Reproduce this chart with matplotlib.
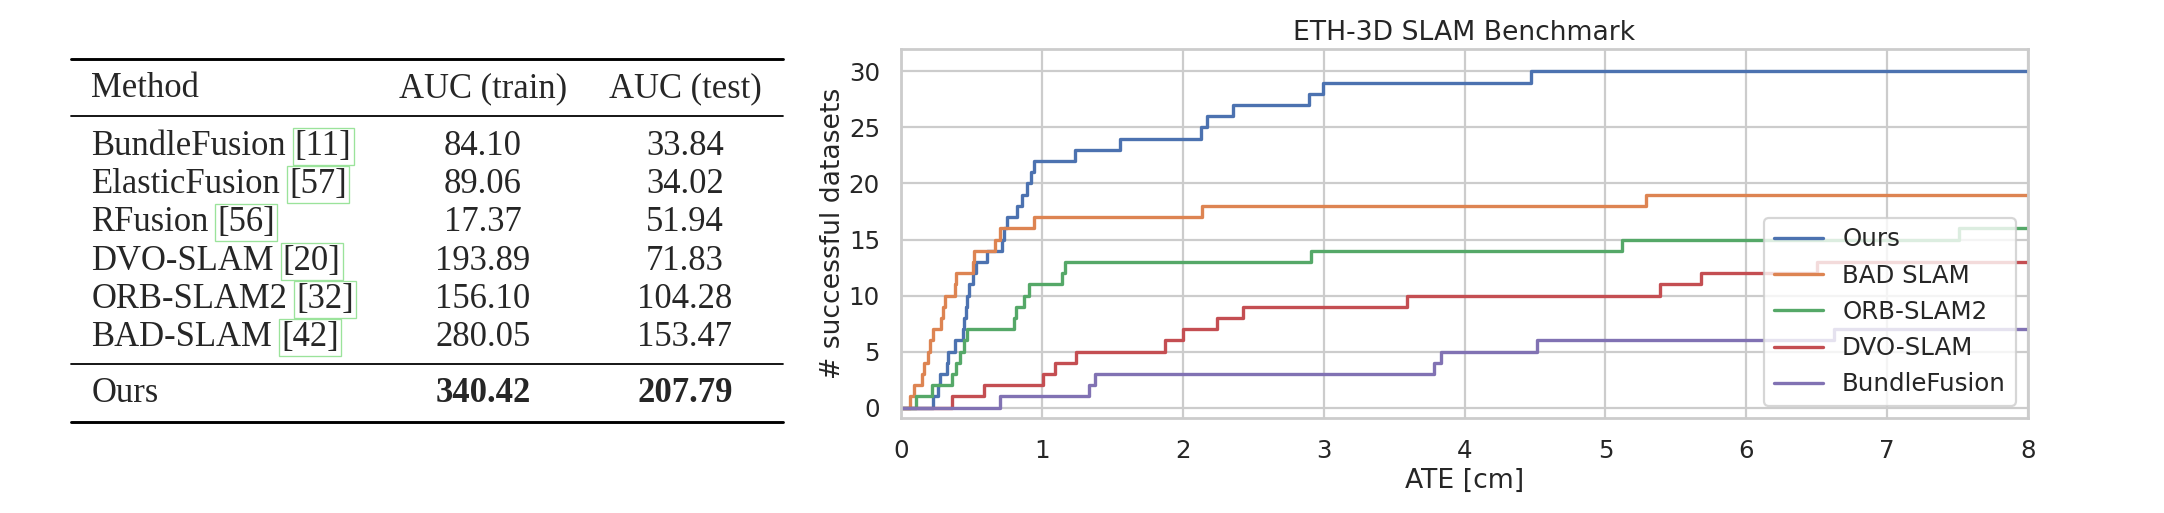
import numpy as np
import matplotlib
matplotlib.use("Agg")
import matplotlib.pyplot as plt
import seaborn as sns
from matplotlib.lines import Line2D

# ---------------------------------------------------------------------
# Table data
# ---------------------------------------------------------------------
methods = ["BundleFusion", "ElasticFusion", "RFusion", "DVO-SLAM", "ORB-SLAM2", "BAD-SLAM"]
cites = ["[11]", "[57]", "[56]", "[20]", "[32]", "[42]"]
auc_train = [84.10, 89.06, 17.37, 193.89, 156.10, 280.05]
auc_test = [33.84, 34.02, 51.94, 71.83, 104.28, 153.47]
ours_train = 340.42
ours_test = 207.79

# ---------------------------------------------------------------------
# Plot data: ATE [cm] at which the count of successful datasets steps up
# ---------------------------------------------------------------------
ours_ate = [0.23, 0.26, 0.28, 0.33, 0.335, 0.38, 0.44, 0.45, 0.46, 0.47,
            0.48, 0.51, 0.53, 0.61, 0.72, 0.73, 0.75, 0.825, 0.86, 0.895,
            0.92, 0.943, 1.234, 1.553, 2.13, 2.17, 2.357, 2.894, 2.995, 4.473]
ours_cnt = [1, 2, 3, 4, 5, 6, 7, 8, 9, 10, 11, 12, 13, 14, 15, 16, 17, 18,
            19, 20, 21, 22, 23, 24, 25, 26, 27, 28, 29, 30]

bad_ate = [0.064, 0.095, 0.147, 0.165, 0.19, 0.205, 0.23, 0.285, 0.295, 0.31,
           0.38, 0.39, 0.51, 0.52, 0.667, 0.70, 0.945, 2.14, 5.29]
bad_cnt = [1, 2, 3, 4, 5, 6, 7, 8, 9, 10, 11, 12, 13, 14, 15, 16, 17, 18, 19]

orb_ate = [0.11, 0.22, 0.365, 0.39, 0.42, 0.445, 0.467, 0.80, 0.815, 0.87,
           0.91, 1.14, 1.165, 2.91, 5.12, 7.51]
orb_cnt = [1, 2, 3, 4, 5, 6, 7, 8, 9, 10, 11, 12, 13, 14, 15, 16]

dvo_ate = [0.362, 0.59, 1.007, 1.095, 1.24, 1.875, 2.0, 2.245, 2.43, 3.592,
           5.39, 5.677, 6.50]
dvo_cnt = [1, 2, 3, 4, 5, 6, 7, 8, 9, 10, 11, 12, 13]

bf_ate = [0.70, 1.335, 1.38, 3.785, 3.83, 4.513, 6.62]
bf_cnt = [1, 2, 3, 4, 5, 6, 7]

series = [
    ("Ours", ours_ate, ours_cnt),
    ("BAD SLAM", bad_ate, bad_cnt),
    ("ORB-SLAM2", orb_ate, orb_cnt),
    ("DVO-SLAM", dvo_ate, dvo_cnt),
    ("BundleFusion", bf_ate, bf_cnt),
]

x_max = 8

sns.set_theme(style="whitegrid", palette="deep", context="notebook")
plt.rcParams["font.family"] = ["DejaVu Sans"]

W, H = 2164, 513
fig = plt.figure(figsize=(W / 160, H / 160), dpi=160)


def fx(x):
    return x / W


def fy(y):
    return 1 - y / H


# ---------------------------------------------------------------------
# Plot
# ---------------------------------------------------------------------
ax = fig.add_axes([fx(901), fy(418.3), fx(2028 - 901), (418.3 - 49) / H])

for name, ate, cnt in series:
    xs = np.r_[0, ate, x_max]
    ys = np.r_[0, cnt, cnt[-1]]
    ax.step(xs, ys, where="post", label=name)

ax.set_xlim(0, x_max)
ax.set_ylim(-0.95, 32)
ax.set_xticks(range(0, 9))
ax.set_yticks(range(0, 31, 5))
ax.set_xlabel("ATE [cm]", labelpad=2)
ax.set_ylabel("# successful datasets", labelpad=1)
ax.set_title("ETH-3D SLAM Benchmark", pad=4)
ax.legend(loc="lower right")

# ---------------------------------------------------------------------
# Table
# ---------------------------------------------------------------------
serif = ["Liberation Serif", "DejaVu Serif"]
tsize = 15.6
x_left, x_right = 70.6, 783
col_method = 91.5
col_train = 483
col_test = 685


def rule(y, lw):
    fig.add_artist(Line2D([fx(x_left), fx(x_right)], [fy(y), fy(y)],
                          transform=fig.transFigure, color="black", lw=lw))


rule(59, 1.3)
rule(116, 0.8)
rule(364, 0.8)
rule(422, 1.3)

header_y = 97
fig.text(fx(col_method), fy(header_y), "Method", family=serif, size=tsize)
fig.text(fx(col_train), fy(header_y), "AUC (train)", family=serif, size=tsize, ha="center")
fig.text(fx(col_test), fy(header_y), "AUC (test)", family=serif, size=tsize, ha="center")

renderer = fig.canvas.get_renderer()
row_y = [155, 193, 231, 270, 308, 346]
space = 0.25 * tsize * 160 / 72

for i, (m, c) in enumerate(zip(methods, cites)):
    y = row_y[i]
    t = fig.text(fx(col_method), fy(y), m, family=serif, size=tsize)
    bb = t.get_window_extent(renderer)
    fig.text(fx(bb.x1 + space), fy(y), c, family=serif, size=tsize,
             bbox=dict(boxstyle="square,pad=0.06", fc="none", ec="#9be39b", lw=0.6))
    fig.text(fx(col_train), fy(y), f"{auc_train[i]:.2f}", family=serif, size=tsize, ha="center")
    fig.text(fx(col_test), fy(y), f"{auc_test[i]:.2f}", family=serif, size=tsize, ha="center")

ours_y = 402
fig.text(fx(col_method), fy(ours_y), "Ours", family=serif, size=tsize)
fig.text(fx(col_train), fy(ours_y), f"{ours_train:.2f}", family=serif, size=tsize,
         ha="center", weight="bold")
fig.text(fx(col_test), fy(ours_y), f"{ours_test:.2f}", family=serif, size=tsize,
         ha="center", weight="bold")

fig.savefig("out.png", dpi=160)
